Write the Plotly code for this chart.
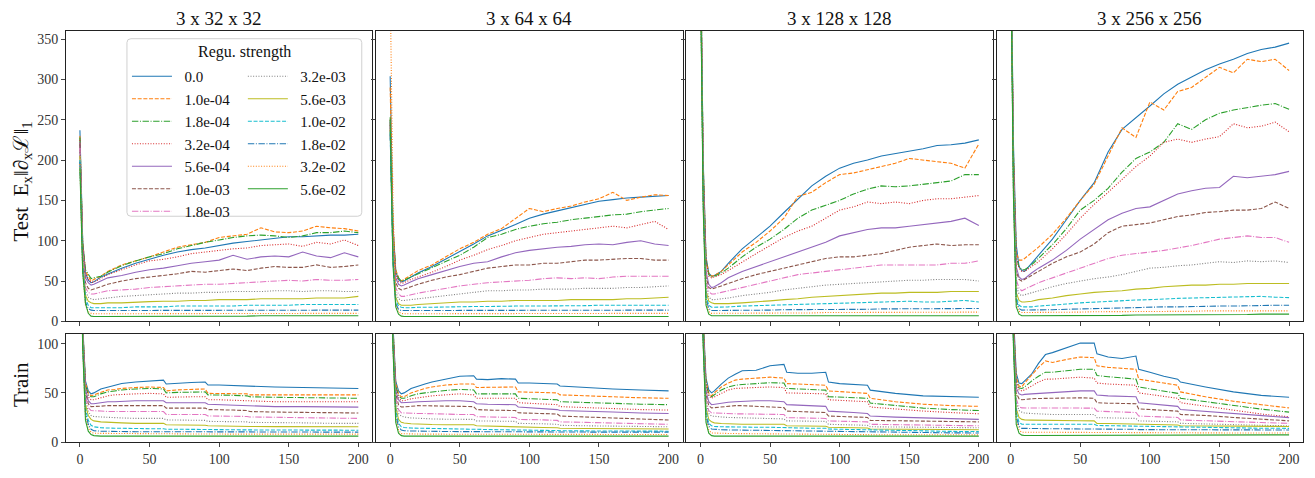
import plotly.graph_objects as go

# ---------------- data ----------------
EPOCHS_TEST = [0, 2, 4, 6, 8, 10, 15, 20, 30, 40, 50, 60, 70, 80, 90, 100,
               110, 120, 130, 140, 150, 160, 170, 180, 190, 200]
EPOCHS_TRAIN = [0, 2, 4, 6, 8, 10, 15, 20, 25, 30, 40, 50, 60, 62, 70, 80,
                90, 92, 100, 110, 120, 122, 140, 160, 180, 200]

STRENGTHS = ["0.0", "1.0e-04", "1.8e-04", "3.2e-04", "5.6e-04", "1.0e-03",
             "1.8e-03", "3.2e-03", "5.6e-03", "1.0e-02", "1.8e-02",
             "3.2e-02", "5.6e-02"]

PANEL_TITLES = ["3 x 32 x 32", "3 x 64 x 64", "3 x 128 x 128", "3 x 256 x 256"]

TEST_32 = [
    [237, 100, 60, 51, 48, 49, 55, 59, 66, 72, 77, 82, 86, 89, 91, 94, 97, 99, 101, 103, 105, 105, 106, 107, 107, 108],
    [230, 98, 62, 56, 50, 52, 56, 62, 70, 75, 80, 86, 92, 95, 98, 104, 106, 108, 116, 111, 110, 112, 118, 116, 115, 112],
    [228, 96, 64, 58, 53, 54, 56, 61, 69, 75, 80, 84, 90, 94, 98, 101, 104, 106, 107, 106, 104, 106, 110, 110, 112, 110],
    [225, 94, 58, 52, 48, 49, 53, 58, 64, 70, 75, 77, 80, 84, 86, 88, 90, 91, 94, 95, 96, 93, 98, 96, 101, 94],
    [222, 90, 54, 48, 45, 46, 50, 54, 57, 61, 64, 66, 69, 72, 74, 76, 82, 77, 80, 81, 80, 86, 81, 79, 85, 80],
    [220, 86, 48, 41, 39, 40, 43, 46, 50, 53, 55, 57, 59, 62, 61, 63, 65, 63, 66, 68, 67, 67, 70, 67, 68, 70],
    [215, 82, 42, 36, 34, 34, 36, 38, 39, 40, 42, 43, 44, 45, 46, 46, 47, 48, 49, 50, 51, 50, 52, 51, 51, 52],
    [210, 78, 37, 30, 28, 27, 28, 29, 31, 32, 33, 34, 35, 35, 36, 36, 37, 37, 37, 38, 38, 37, 38, 38, 37, 37],
    [205, 74, 32, 25, 23, 22, 22, 23, 23, 24, 24.5, 25, 25, 26, 26, 27, 27, 27, 28, 28, 28, 28, 29, 29, 29, 31],
    [200, 70, 28, 20, 17, 17, 17, 17, 17, 18, 18, 18, 19, 19, 19, 19, 19, 20, 20, 20, 20, 21, 21, 21, 21, 21],
    [198, 66, 24, 16, 14, 13.5, 13.5, 13.5, 13.5, 13.5, 13.5, 14, 14, 14, 14, 14, 14, 14, 14, 14, 14, 14, 14, 14, 14, 14],
    [195, 62, 20, 12, 10, 9.5, 9.5, 9.5, 9.5, 9.5, 9.5, 9.5, 10, 10, 10, 10, 10, 10, 10, 10, 10, 10, 10, 10, 10, 10],
    [190, 60, 22, 10, 6.5, 6, 6, 6, 6, 6, 6, 6, 6, 6.5, 6.5, 6.5, 6.5, 6.5, 7, 7, 7, 7, 7, 7, 7, 7],
]

TEST_64 = [
    [304, 120, 62, 52, 49, 50, 55, 60, 68, 77, 86, 96, 106, 113, 120, 128, 133, 137, 141, 145, 149, 151, 153, 154, 155, 156],
    [290, 118, 64, 54, 50, 52, 57, 63, 70, 80, 90, 98, 108, 115, 128, 140, 136, 140, 143, 148, 152, 160, 150, 154, 157, 156],
    [253, 115, 62, 54, 50, 51, 55, 59, 66, 74, 82, 92, 104, 108, 114, 118, 121, 123, 126, 128, 130, 132, 133, 136, 138, 140],
    [250, 110, 58, 50, 47, 48, 52, 55, 61, 68, 76, 82, 89, 94, 100, 104, 108, 110, 112, 114, 116, 118, 116, 120, 124, 114],
    [248, 105, 54, 46, 44, 45, 49, 53, 58, 63, 68, 72, 74, 80, 85, 88, 90, 92, 93, 95, 96, 95, 98, 100, 96, 94],
    [245, 100, 48, 41, 39, 40, 43, 46, 51, 55, 58, 62, 66, 68, 70, 70, 72, 72, 74, 76, 76, 77, 78, 78, 76, 76],
    [242, 95, 42, 34, 31, 31, 33, 35, 38, 41, 44, 46, 48, 49, 50, 51, 53, 54, 53, 54, 53, 55, 56, 56, 56, 56],
    [240, 90, 36, 28, 26, 26, 27, 28, 30, 32, 34, 36, 38, 38, 39, 39, 40, 40, 40, 41, 41, 41, 42, 42, 43, 44],
    [238, 85, 30, 22, 20, 20, 20, 21, 22, 23, 24, 24, 25, 25, 26, 26, 26, 26, 27, 27, 27, 27, 28, 28, 29, 30],
    [235, 80, 26, 19, 17.5, 17, 17, 17.5, 17.5, 18, 18, 18.5, 18.5, 19, 19, 19, 19, 19.5, 19.5, 19.5, 20, 20, 20, 20, 20, 20],
    [232, 76, 22, 15, 13.5, 13.5, 13.5, 13.5, 13.5, 13.5, 13.5, 13.5, 14, 14, 14, 14, 14, 14, 14, 14, 14, 14, 14, 14, 14, 14],
    [420, 150, 20, 11.5, 10, 9.5, 9.5, 9.5, 9.5, 9.5, 9.5, 9.5, 9.5, 10, 10, 10, 10, 10, 10, 10, 10, 10, 10, 10, 10, 10],
    [250, 70, 18, 9, 6.5, 6, 6, 6, 6, 6, 6, 6, 6, 6, 6, 6, 6, 6, 6, 6, 6, 6, 6, 6, 6, 6],
]

TEST_128 = [
    [480, 200, 80, 60, 56, 57, 62, 72, 90, 104, 118, 135, 152, 168, 180, 190, 196, 200, 205, 208, 211, 214, 218, 219, 221, 225],
    [480, 195, 78, 60, 56, 57, 62, 70, 86, 98, 112, 128, 155, 160, 172, 182, 184, 188, 192, 196, 202, 200, 198, 196, 190, 220],
    [470, 192, 76, 58, 55, 56, 60, 66, 80, 92, 102, 114, 128, 138, 144, 150, 158, 164, 168, 167, 168, 170, 172, 174, 182, 182],
    [470, 188, 74, 56, 54, 55, 58, 63, 74, 84, 94, 104, 112, 118, 128, 138, 142, 148, 146, 148, 146, 150, 152, 152, 154, 156],
    [460, 180, 62, 46, 42, 43, 48, 54, 62, 68, 74, 80, 86, 92, 98, 106, 110, 114, 116, 116, 118, 120, 122, 124, 128, 119],
    [460, 175, 56, 42, 40, 41, 44, 47, 53, 58, 62, 66, 70, 74, 78, 80, 80, 82, 84, 88, 92, 94, 96, 94, 95, 95],
    [455, 170, 50, 37, 34, 34, 36, 38, 42, 46, 50, 54, 58, 60, 62, 64, 66, 68, 70, 70, 70, 70, 70, 72, 72, 75],
    [455, 165, 44, 30, 27, 27, 28, 29, 32, 34, 36, 39, 41, 43, 45, 46, 47, 48, 49, 50, 51, 51, 52, 52, 52, 50],
    [450, 160, 38, 25, 23, 22, 22, 22, 23, 24, 25.5, 27, 28, 30, 31, 32, 33, 34, 35, 35, 36, 36, 36, 37, 37, 37],
    [450, 155, 32, 20, 17.5, 17.5, 17.5, 18, 19, 19.5, 20, 20.5, 21, 21.5, 22, 22, 23, 23, 24, 24, 25, 24, 24, 25, 26, 24],
    [445, 150, 28, 16, 13.5, 13.5, 13.5, 13.5, 14, 14, 14, 14.5, 14.5, 14.5, 15, 15, 15, 15, 15.5, 15.5, 15.5, 16, 16, 16, 16, 16],
    [445, 145, 24, 12, 10, 10, 10, 10, 10, 10, 10, 10.5, 10.5, 10.5, 11, 11, 11, 11, 11, 11, 11, 11.5, 11.5, 11.5, 11.5, 11.5],
    [440, 140, 20, 9, 7, 7, 7, 7, 7, 7, 7, 7, 7, 7, 7, 7, 7, 7, 7, 7, 7, 7, 7, 7, 7, 7],
]

TEST_256 = [
    [500, 220, 95, 68, 63, 62, 72, 82, 102, 126, 150, 172, 210, 238, 252, 267, 282, 294, 303, 312, 319, 325, 332, 337, 340, 345],
    [500, 210, 85, 76, 76, 78, 85, 92, 108, 128, 150, 170, 205, 240, 228, 272, 262, 285, 290, 303, 315, 308, 325, 322, 325, 311],
    [495, 205, 80, 68, 64, 64, 70, 78, 95, 115, 138, 150, 165, 185, 202, 210, 222, 245, 238, 250, 258, 262, 265, 268, 270, 263],
    [495, 200, 78, 66, 62, 62, 68, 74, 90, 108, 128, 145, 160, 176, 192, 205, 222, 226, 222, 226, 229, 245, 240, 242, 247, 235],
    [490, 195, 68, 55, 52, 53, 60, 66, 76, 88, 102, 114, 126, 134, 140, 142, 150, 158, 162, 165, 166, 180, 178, 180, 182, 186],
    [490, 190, 62, 52, 50, 52, 58, 62, 72, 80, 86, 96, 110, 118, 120, 122, 126, 130, 132, 135, 136, 138, 138, 140, 148, 140],
    [485, 185, 52, 41, 38, 40, 44, 48, 54, 60, 66, 72, 78, 82, 84, 86, 88, 91, 94, 98, 102, 104, 106, 104, 104, 98],
    [485, 180, 44, 34, 32, 33, 36, 38, 43, 47, 50, 53, 55, 58, 62, 66, 67, 69, 70, 72, 74, 73, 75, 74, 75, 73],
    [480, 175, 36, 26, 24, 24, 25, 27, 29, 32, 34, 36, 37, 38, 40, 41, 43, 44, 45, 45, 46, 46, 47, 47, 47, 47],
    [480, 170, 30, 20, 18, 18, 18, 19, 20, 21.5, 23, 24, 25, 26, 26.5, 27, 28, 28.5, 29, 29.5, 30, 30, 31, 31, 30, 29.5],
    [475, 165, 26, 16, 14, 14, 14, 14, 14.5, 15, 15.5, 16, 16.5, 17, 17, 17.5, 18, 18, 18.5, 18.5, 19, 19, 19.5, 19.5, 20, 20],
    [475, 160, 22, 12.5, 11, 11, 11, 11, 11, 11.5, 11.5, 12, 12, 12, 12, 12.5, 12.5, 12.5, 12.5, 13, 13, 13, 13, 13, 13, 13],
    [470, 155, 18, 9, 7, 7, 7, 7, 7, 7, 7, 7.5, 7.5, 7.5, 8, 8, 8, 8, 8, 8.5, 8.5, 8.5, 8.5, 9, 9, 9],
]

TRAIN_32 = [
    [250, 120, 62, 52, 49, 50, 54, 56, 58, 59.5, 61, 62, 63, 59, 60, 60.5, 61, 58, 58, 57.5, 57, 56.5, 56, 55.5, 55, 54.5],
    [250, 118, 60, 50, 47, 48, 51, 53, 53.5, 54.5, 55.5, 56, 55.5, 52, 53, 53.5, 54, 49.5, 49.5, 49, 49, 48, 48, 48, 48, 48],
    [250, 116, 58, 48, 46, 46, 49, 51, 52, 53, 54, 54.5, 54, 50, 50.5, 51, 51, 48, 48, 47.5, 47, 46, 45.5, 45, 44.5, 44.5],
    [250, 114, 56, 46, 43, 43, 45, 47, 48, 48.5, 49, 49.5, 49, 45.5, 46, 46, 46, 43, 43, 42.5, 42, 41.5, 41, 41, 41, 41],
    [250, 112, 54, 42, 39, 39, 40, 41, 41, 41.5, 42, 42, 42, 40, 40, 40, 40, 38.5, 38, 37.5, 37, 36.5, 36, 36, 35.5, 35.5],
    [250, 110, 50, 39, 36, 36, 36.5, 37, 37, 37, 37, 37, 37, 34.5, 34.5, 34.5, 34.5, 33, 33, 32.5, 32, 31, 30.5, 30, 30, 29.5],
    [250, 108, 46, 35, 32, 32, 31.5, 31, 31, 31, 31, 31, 31, 28, 28, 28, 28, 26.5, 26.5, 26, 26, 25.5, 25, 24.5, 24, 24],
    [250, 106, 42, 31, 27, 26, 25.5, 25, 25, 24.5, 24, 24, 24, 22.5, 22.5, 22, 22, 21, 21, 20.5, 20.5, 20, 20, 19.5, 19, 19],
    [250, 104, 38, 27, 23, 21.5, 20.5, 20, 19.5, 19.5, 19, 19, 19, 17.5, 17.5, 17, 17, 16.5, 16.5, 16.3, 16, 15.8, 15.6, 15.5, 15.5, 15.5],
    [250, 102, 34, 22, 17, 15.5, 14.5, 14, 14, 14, 13.5, 13.5, 13.5, 13, 13, 13, 13, 12.5, 12.5, 12.5, 12.5, 12.3, 12.2, 12, 12, 12],
    [250, 100, 30, 18, 13, 11.5, 11, 10.8, 10.6, 10.5, 10.5, 10.5, 10.5, 10.3, 10.3, 10.2, 10.2, 10, 10, 10, 10, 10, 10, 10, 10, 10],
    [250, 98, 26, 14, 10, 9, 8.8, 8.7, 8.6, 8.5, 8.5, 8.4, 8.4, 8.3, 8.3, 8.2, 8.2, 8.1, 8.1, 8, 8, 8, 8, 8, 8, 8],
    [250, 96, 22, 11, 7.5, 6.5, 6, 6, 6, 6, 6, 6, 6, 6, 6, 6, 6, 6, 6, 6, 6, 6, 6, 6, 6, 6],
]

TRAIN_64 = [
    [250, 120, 62, 52, 49, 50, 54.5, 57, 59, 61, 64, 67, 67.5, 64, 63.5, 64.5, 64, 60, 60, 59.5, 59, 57, 55.5, 54, 53, 52],
    [250, 118, 60, 49, 46, 46, 50, 52.5, 54.5, 56, 58, 59, 59, 55.5, 55.5, 56, 56, 51, 50.5, 50, 50, 48, 47, 46, 45, 44.5],
    [250, 116, 57, 47, 44.5, 44.5, 47, 49, 50, 51, 52.5, 53.5, 53, 49, 49, 49, 49, 44.5, 44, 43.5, 43, 41, 40, 39.5, 38.5, 38],
    [250, 114, 55, 45, 42, 42, 44, 45, 46, 47, 48, 49, 48, 44.5, 44.5, 44.5, 44.5, 40, 39.5, 39, 38, 36, 35, 34, 33, 32.5],
    [250, 112, 52, 43, 40, 40, 40.5, 41, 41, 41.5, 42, 42, 41, 39, 38.5, 38.5, 38, 35.6, 35, 34, 33, 32, 31.5, 30.5, 29.5, 29],
    [250, 110, 49, 38, 35.6, 35.6, 36.3, 37, 37, 37, 36.5, 36.3, 36, 33, 32.5, 32, 32, 29.7, 29.5, 29, 28.5, 26.4, 25.5, 24.5, 23.5, 22.4],
    [250, 108, 45, 33, 29.7, 29.5, 29.3, 29, 29, 28.7, 28.3, 28, 28, 25.7, 25.5, 25, 25, 23, 23, 22.5, 22, 20.5, 20, 19.5, 18.5, 18],
    [250, 106, 41, 29, 26.4, 25.5, 24.5, 24, 23.8, 23.5, 23.2, 23, 23, 21.5, 21.2, 21, 21, 19, 19, 18.5, 18, 17, 16.5, 16, 15.7, 15.5],
    [250, 104, 36, 23, 20, 19.3, 18.6, 18.2, 18, 17.8, 17.6, 17.5, 17.5, 16.5, 16.3, 16, 16, 15.2, 15, 14.8, 14.5, 14, 13.8, 13.5, 13.3, 13.2],
    [250, 102, 32, 19, 15.5, 14.8, 14.2, 14, 13.8, 13.6, 13.4, 13.2, 13.2, 12.8, 12.7, 12.5, 12.5, 12, 12, 11.8, 11.7, 11.5, 11.3, 11.2, 11, 11],
    [250, 100, 28, 15.5, 12.2, 11.5, 11.2, 11, 10.9, 10.8, 10.7, 10.6, 10.5, 10.4, 10.3, 10.3, 10.2, 10.1, 10.1, 10, 10, 10, 10, 10, 10, 10],
    [250, 98, 24, 12, 8.5, 8.3, 8.2, 8.1, 8, 8, 8, 7.9, 7.9, 7.8, 7.8, 7.8, 7.7, 7.7, 7.7, 7.6, 7.6, 7.6, 7.6, 7.6, 7.6, 7.6],
    [250, 96, 20, 9, 6.5, 6, 6, 6, 6, 6, 6, 6, 6, 6, 6, 6, 6, 6, 6, 6, 6, 6, 6, 6, 6, 6],
]

TRAIN_128 = [
    [250, 125, 65, 53, 50, 52, 59, 65, 69, 72.6, 73, 77.6, 79, 71, 70, 70, 71, 61, 59.4, 58.7, 57.8, 52.8, 49.5, 47, 46, 45.5],
    [250, 122, 62, 50, 47, 50, 56, 60, 63, 64, 65, 66, 65, 59.4, 59, 58.5, 57.8, 52, 51.5, 50.5, 49.5, 44.5, 41, 38.5, 37, 36.3],
    [250, 120, 60, 48, 46, 48, 53, 56, 57.8, 58.5, 59.5, 60.4, 60, 54.5, 54, 53.5, 52.8, 46.2, 45.8, 45, 44.5, 39.6, 37, 34.5, 33, 32],
    [250, 118, 58, 47, 44.5, 46, 50, 53, 54.5, 55, 55.5, 56, 55.4, 50, 49.8, 49.5, 49, 43, 42.5, 42, 41, 35.6, 33.5, 31.5, 30, 28.7],
    [250, 115, 52, 41, 38, 38.5, 40, 40.5, 41, 41.5, 42, 42, 41, 38, 37.5, 37, 36.3, 31.4, 31, 30, 29, 26.4, 25.3, 24.3, 23.5, 23],
    [250, 112, 48, 37, 34.7, 35, 36, 36.5, 37, 37, 36.3, 35.6, 35, 31.4, 31, 30.5, 30, 26.4, 26, 25.5, 25, 22, 21.5, 21, 20.7, 20.5],
    [250, 110, 44, 32, 29.7, 29.5, 29, 28.8, 28.7, 28.6, 28.3, 28, 28, 24.8, 24.5, 24, 24, 21.5, 21.2, 20.8, 20.5, 18, 17.5, 17, 16.7, 16.5],
    [250, 108, 40, 29, 26.4, 26, 25.5, 25, 24.8, 24.5, 24, 23.8, 23.5, 21.5, 21.2, 21, 21, 18, 17.8, 17.5, 17, 15.5, 15.2, 15, 14.7, 14.5],
    [250, 106, 35, 23, 20.5, 19.5, 18.8, 18.3, 18, 18, 18, 18, 18, 16.5, 16.3, 16, 16, 15, 14.8, 14.5, 14.2, 13.2, 13, 12.8, 12.6, 12.5],
    [250, 104, 31, 19, 16.5, 15.8, 15.5, 15.3, 15.2, 15.1, 15, 15, 15, 14.5, 14.3, 14, 14, 13.2, 13, 12.7, 12.4, 11.8, 11.4, 11, 10.8, 10.6],
    [250, 102, 27, 16, 13.2, 12.8, 12.5, 12.3, 12.2, 12.1, 12, 11.9, 11.8, 11.4, 11.2, 11, 11, 10.5, 10.4, 10.2, 10, 9.8, 9.6, 9.4, 9.3, 9.2],
    [250, 100, 23, 12, 9.2, 9, 8.8, 8.7, 8.6, 8.5, 8.4, 8.3, 8.2, 8, 8, 7.9, 7.9, 7.7, 7.7, 7.6, 7.5, 7.4, 7.4, 7.3, 7.3, 7.3],
    [250, 98, 20, 9, 6.5, 6, 6, 6, 6, 6, 6, 6, 6, 6, 6, 6, 6, 6, 6, 6, 6, 6, 6, 6, 6, 6],
]

TRAIN_256 = [
    [250, 130, 70, 60, 59.4, 62, 69, 80, 89, 91, 95.7, 100.7, 100.7, 89.8, 86.5, 85, 87.5, 74, 71, 67, 64, 61, 56, 51, 47.5, 45.5],
    [250, 125, 66, 57, 56, 60, 68, 76, 82.5, 81, 84, 86.5, 85.8, 77.6, 76, 75, 74, 64, 62, 60, 57.8, 51, 46, 41.5, 38, 34.7],
    [250, 122, 62, 55, 54.5, 56, 62, 67, 71, 71, 72.5, 74, 74, 67.7, 66.5, 65, 64, 56, 54, 52, 49.5, 44.5, 41, 37, 33.5, 30.4],
    [250, 120, 60, 53, 52, 53, 57, 61, 64, 64, 65, 66, 65, 60, 59, 58.5, 57.8, 50, 48.5, 46.5, 44.5, 40, 36.5, 32, 28.5, 25.7],
    [250, 116, 55, 49, 47.9, 48.5, 49, 49.5, 50, 50.5, 51, 52, 52, 47.9, 47, 46.5, 46, 40, 39, 37.5, 36.3, 33, 31, 28.5, 26.5, 24.8],
    [250, 112, 50, 44, 43, 43.5, 44, 44.3, 44.5, 44.5, 44.8, 45, 44.5, 40, 39.5, 39.3, 39, 33.7, 33, 32, 31.4, 28, 27, 25, 23, 21.5],
    [250, 110, 44, 36, 34.7, 34.7, 34.7, 34.7, 34.7, 34.7, 34.7, 34.7, 34.5, 31.4, 31, 30.5, 30, 26.4, 26, 25.5, 25, 22.4, 21.8, 20.8, 19.8, 19],
    [250, 108, 40, 32, 30.4, 29.5, 29, 28.5, 28, 28, 28, 28, 28, 24.8, 24.5, 24, 24, 21.5, 21.2, 21, 20.5, 19, 18.2, 17.5, 17, 16.5],
    [250, 106, 34, 25, 23, 22.5, 22.3, 22.1, 22, 22, 21.8, 21.6, 21.5, 19, 18.8, 18.5, 18.5, 18, 17.8, 17.5, 17.3, 16.5, 16.3, 16, 15.9, 15.8],
    [250, 104, 30, 20, 18, 18, 18, 18, 18, 18, 18, 18, 18, 16.8, 16.6, 16.4, 16.3, 15.8, 15.6, 15.4, 15.2, 14.8, 14.5, 14.2, 14, 13.9],
    [250, 102, 26, 16, 13.9, 13.8, 13.7, 13.6, 13.5, 13.5, 13.4, 13.4, 13.3, 13, 13, 12.9, 12.9, 12.6, 12.6, 12.5, 12.5, 12.4, 12.3, 12.3, 12.2, 12.2],
    [250, 100, 22, 12, 10, 10, 10, 10, 10, 10, 10, 10, 10, 9.8, 9.8, 9.7, 9.7, 9.5, 9.5, 9.4, 9.4, 9.3, 9.3, 9.2, 9.2, 9.2],
    [250, 98, 18, 9, 7, 6.6, 6.6, 6.6, 6.6, 6.6, 6.6, 6.7, 6.7, 6.8, 6.8, 6.9, 6.9, 7, 7, 7, 7.1, 7.1, 7.2, 7.2, 7.3, 7.3],
]

TEST_Y_TICKS = [0, 50, 100, 150, 200, 250, 300, 350]
TRAIN_Y_TICKS = [0, 50, 100]
X_TICKS = [0, 50, 100, 150, 200]

# ---------------- styling ----------------
COLORS = ["#1f77b4", "#ff7f0e", "#2ca02c", "#d62728", "#9467bd", "#8c564b",
          "#e377c2", "#7f7f7f", "#bcbd22", "#17becf", "#1f77b4", "#ff7f0e",
          "#2ca02c"]
DASH_CYCLE = ["solid", "4px,1.7px", "6.4px,1.6px,1px,1.6px", "1px,1.65px"]
FONT = "Liberation Serif, DejaVu Serif, serif"

# the page body has an 8px default margin: the figure starts at (8, 8)
OFF = 8
SCREEN_W, SCREEN_H = 1315, 478
W, H = SCREEN_W - OFF, SCREEN_H - OFF
# plot area on screen: x 66..1304, y 31..457
ML, MR, MT, MB = 66 - OFF, SCREEN_W - 1304, 31 - OFF, SCREEN_H - 457
PW = W - ML - MR
PH = H - MT - MB


def fx(p):
    """screen x pixel -> paper fraction"""
    return (p - OFF - ML) / PW


def fy(p):
    """screen y pixel -> paper fraction"""
    return (OFF + MT + PH - p) / PH


panel_left = [66, 376.5, 687, 997.5]
panel_w = 306.5
top_dom = [fy(332), 1.0]
bot_dom = [0.0, fy(345)]

fig = go.Figure()
test_sets = [TEST_32, TEST_64, TEST_128, TEST_256]
train_sets = [TRAIN_32, TRAIN_64, TRAIN_128, TRAIN_256]

for c in range(4):
    xa_top = "x" if c == 0 else f"x{c + 1}"
    ya_top = "y" if c == 0 else f"y{c + 1}"
    xa_bot = f"x{c + 5}"
    ya_bot = f"y{c + 5}"
    for i in range(13):
        show = (c == 0)
        fig.add_trace(go.Scatter(
            x=EPOCHS_TEST, y=test_sets[c][i], mode="lines",
            line=dict(color=COLORS[i], width=1.1, dash=DASH_CYCLE[i % 4]),
            name="\u2002" + STRENGTHS[i], showlegend=show,
            legend="legend" if i < 7 else "legend2",
            xaxis=xa_top, yaxis=ya_top, hoverinfo="skip"))
        fig.add_trace(go.Scatter(
            x=EPOCHS_TRAIN, y=train_sets[c][i], mode="lines",
            line=dict(color=COLORS[i], width=1.1, dash=DASH_CYCLE[i % 4]),
            name=STRENGTHS[i], showlegend=False,
            xaxis=xa_bot, yaxis=ya_bot, hoverinfo="skip"))

axis_common = dict(showline=True, mirror=True, linecolor="#222", linewidth=1,
                   showgrid=False, zeroline=False, ticks="outside",
                   ticklen=4, tickwidth=1, tickcolor="#444",
                   tickfont=dict(family=FONT, size=14, color="#333"))

layout = dict(
    width=W, height=H,
    margin=dict(l=ML, r=MR, t=MT, b=MB, pad=0),
    paper_bgcolor="white", plot_bgcolor="white",
    font=dict(family=FONT, color="#111"),
)

for c in range(4):
    dom = [fx(panel_left[c]), fx(panel_left[c] + panel_w)]
    kx_top = "xaxis" if c == 0 else f"xaxis{c + 1}"
    ky_top = "yaxis" if c == 0 else f"yaxis{c + 1}"
    kx_bot = f"xaxis{c + 5}"
    ky_bot = f"yaxis{c + 5}"
    ya_top = "y" if c == 0 else f"y{c + 1}"
    xa_top = "x" if c == 0 else f"x{c + 1}"
    layout[kx_top] = dict(axis_common, domain=dom, range=[-10, 210],
                          tickvals=X_TICKS, showticklabels=False, anchor=ya_top)
    layout[ky_top] = dict(axis_common, domain=top_dom, range=[0, 360],
                          tickvals=TEST_Y_TICKS, showticklabels=(c == 0),
                          anchor=xa_top)
    layout[kx_bot] = dict(axis_common, domain=dom, range=[-10, 210],
                          tickvals=X_TICKS, showticklabels=True,
                          anchor=f"y{c + 5}")
    layout[ky_bot] = dict(axis_common, domain=bot_dom, range=[0, 110],
                          tickvals=TRAIN_Y_TICKS, showticklabels=(c == 0),
                          anchor=f"x{c + 5}")

fig.update_layout(**layout)

# legend box (rounded, semi-transparent white)
bx0, bx1, by0, by1 = fx(127), fx(362), fy(223), fy(39)
rx, ry = 4 / PW, 4 / PH
path = (f"M {bx0 + rx},{by0} L {bx1 - rx},{by0} Q {bx1},{by0} {bx1},{by0 + ry} "
        f"L {bx1},{by1 - ry} Q {bx1},{by1} {bx1 - rx},{by1} "
        f"L {bx0 + rx},{by1} Q {bx0},{by1} {bx0},{by1 - ry} "
        f"L {bx0},{by0 + ry} Q {bx0},{by0} {bx0 + rx},{by0} Z")
fig.add_shape(type="path", path=path, xref="paper", yref="paper",
              line=dict(color="#d0d0d0", width=1),
              fillcolor="rgba(255,255,255,0.85)", layer="above")

leg_common = dict(bgcolor="rgba(0,0,0,0)", borderwidth=0,
                  font=dict(family=FONT, size=15, color="#111"),
                  xanchor="left", yanchor="top", itemwidth=40,
                  tracegroupgap=0, itemclick=False, itemdoubleclick=False)
fig.update_layout(
    legend=dict(leg_common, x=fx(127), y=fy(61)),
    legend2=dict(leg_common, x=fx(243), y=fy(61)),
)

annotations = [
    dict(text="Regu. strength", x=fx(244.5), y=fy(53), xref="paper",
         yref="paper", showarrow=False, xanchor="center", yanchor="middle",
         font=dict(family=FONT, size=16, color="#111")),
    dict(text="Test  E<sub>x</sub>‖∂<sub>x</sub>ℒ‖<sub>1</sub>",
         x=fx(21), y=fy(187), xref="paper", yref="paper", showarrow=False,
         textangle=-90, xanchor="center", yanchor="middle",
         font=dict(family=FONT, size=21, color="#111")),
    dict(text="Train", x=fx(21), y=fy(398), xref="paper", yref="paper",
         showarrow=False, textangle=-90, xanchor="center", yanchor="middle",
         font=dict(family=FONT, size=21, color="#111")),
]
for c in range(4):
    annotations.append(dict(
        text=PANEL_TITLES[c], x=fx(panel_left[c] + panel_w / 2), y=fy(18),
        xref="paper", yref="paper", showarrow=False, xanchor="center",
        yanchor="middle", font=dict(family=FONT, size=19, color="#111")))
fig.update_layout(annotations=annotations)

fig.write_html("out.html")
